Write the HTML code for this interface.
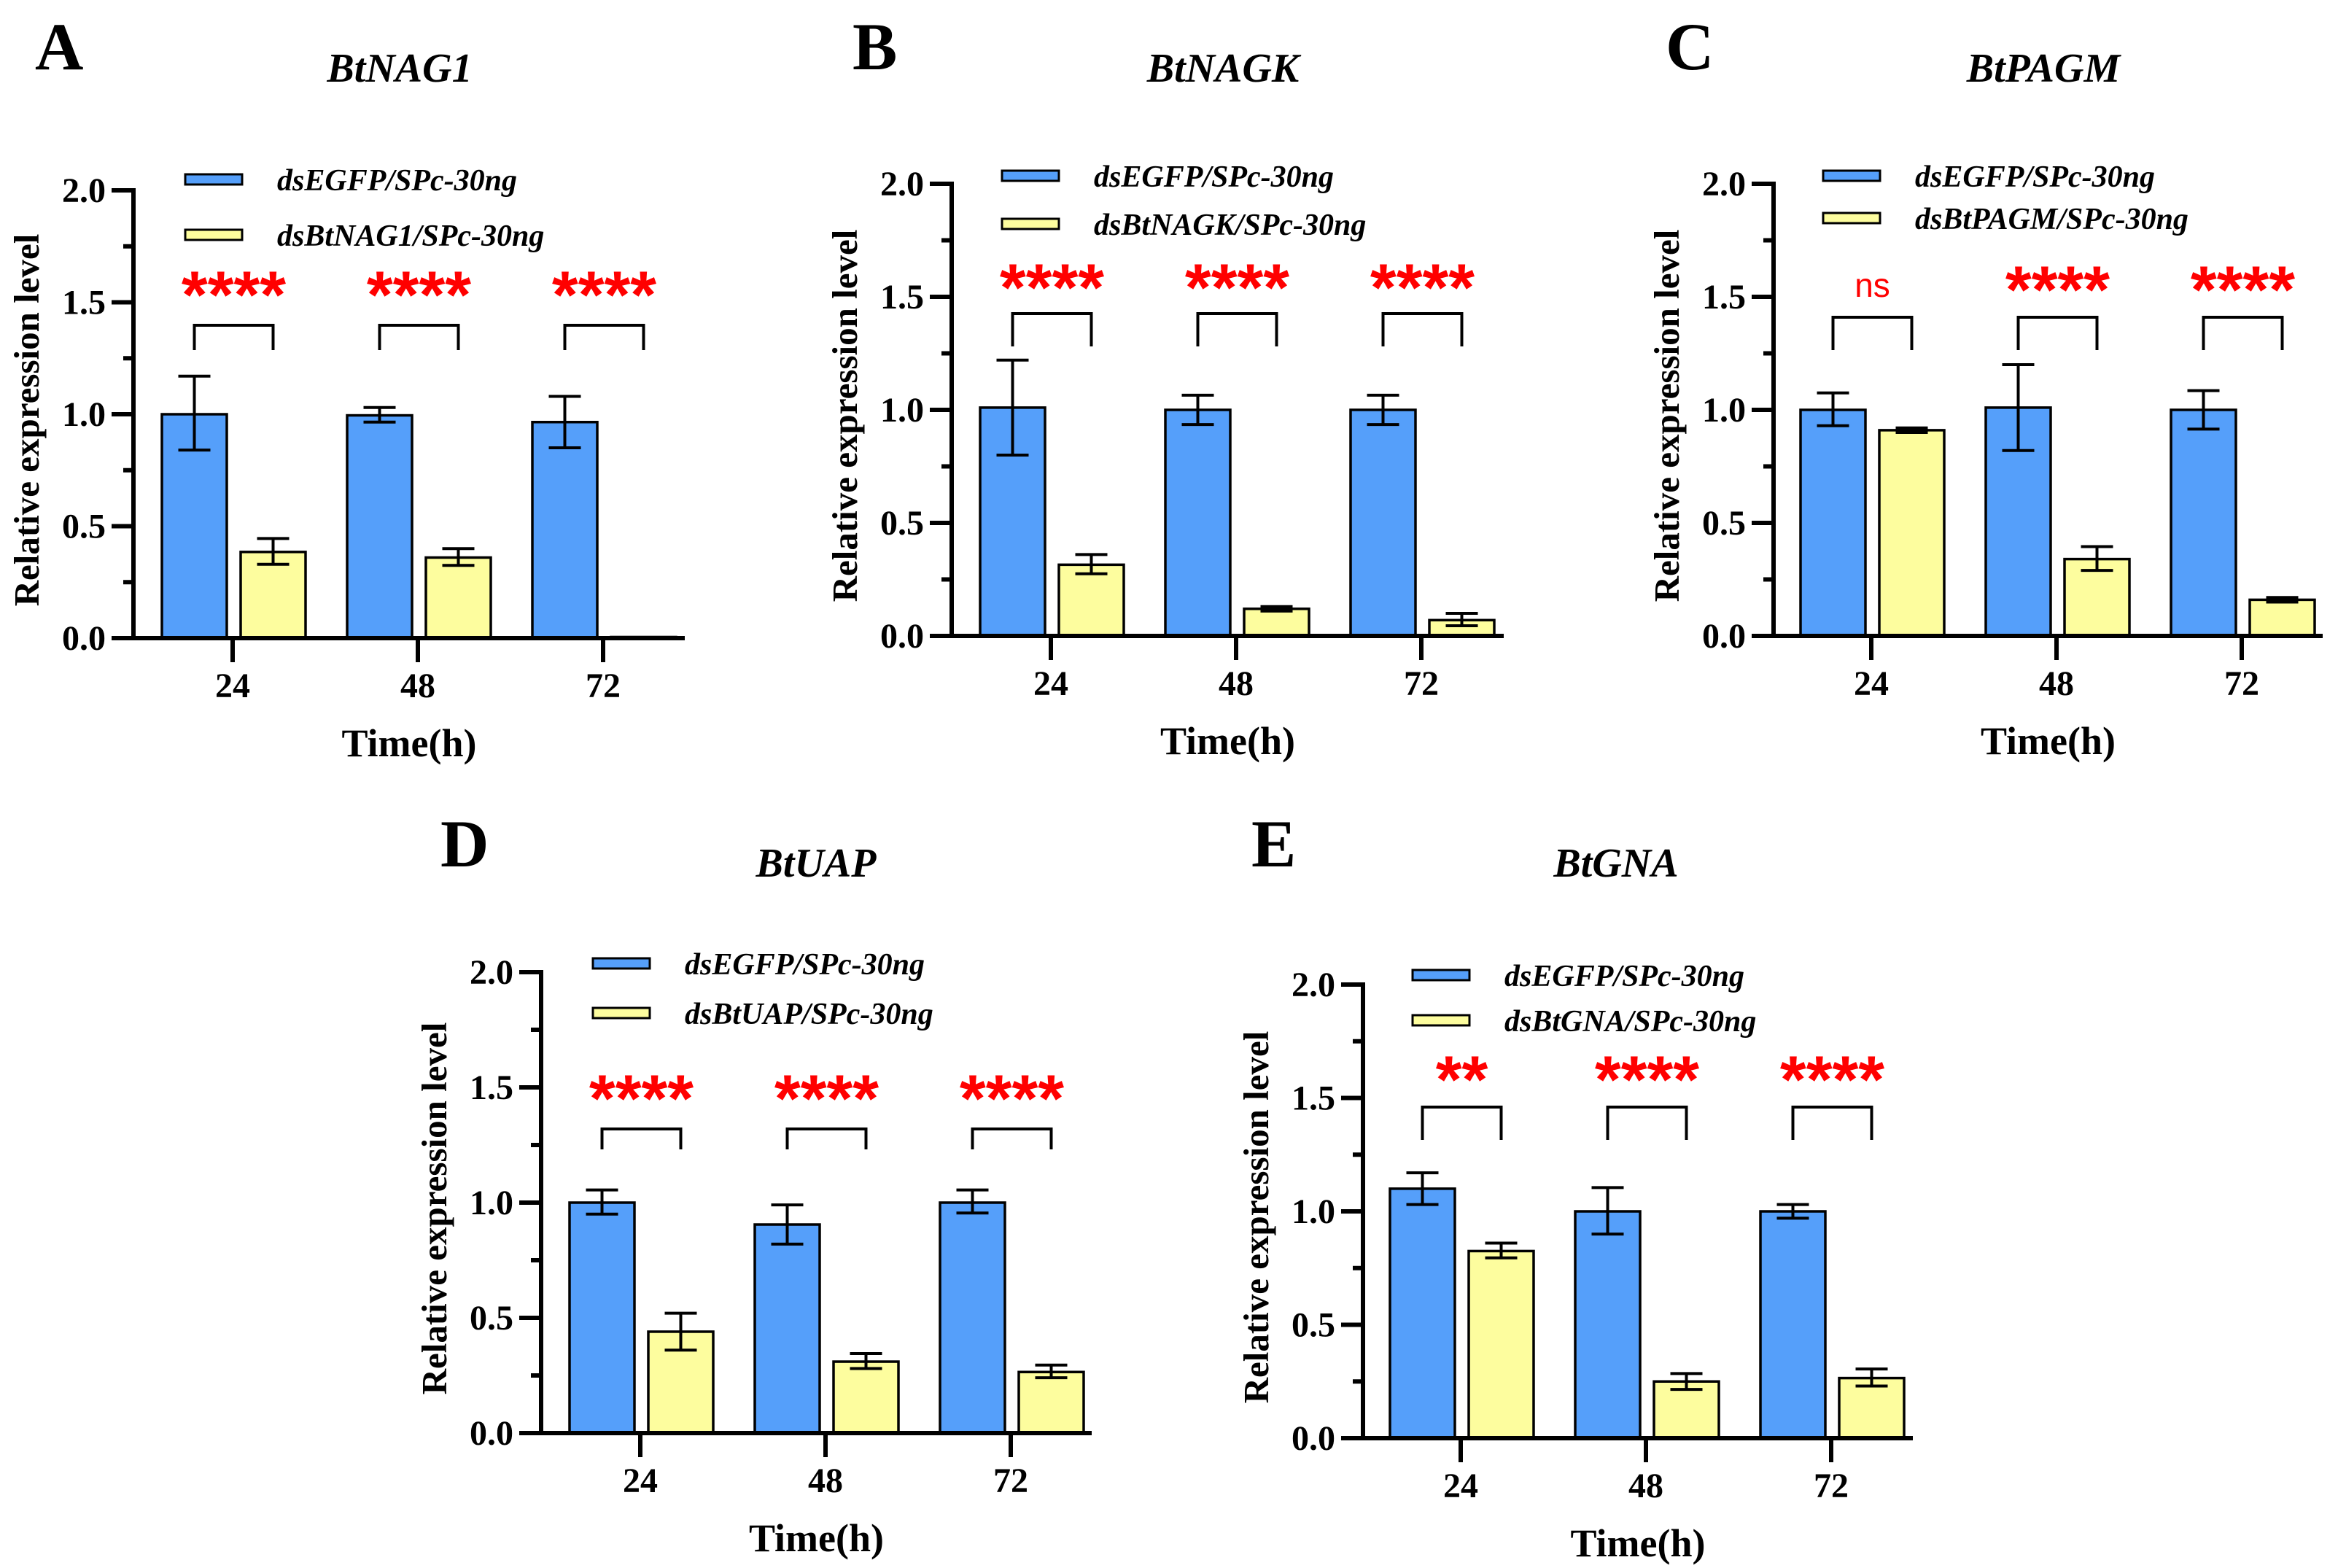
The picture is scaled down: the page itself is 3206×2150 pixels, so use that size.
<!DOCTYPE html>
<html><head><meta charset="utf-8"><style>
html,body{margin:0;padding:0;background:#fff;}
svg{display:block;}
</style></head><body>
<svg id="fig" width="3206" height="2150" viewBox="0 0 3206 2150" xmlns="http://www.w3.org/2000/svg">
<rect x="0" y="0" width="3206" height="2150" fill="#fff"/>
</svg>
<script>
const categories = ["24","48","72"];
const yTicks = [0,0.5,1.0,1.5,2.0];
const yTickLabels = ["0.0","0.5","1.0","1.5","2.0"];
const panelLetters = ["A","B","C","D","E"];
const genes = ["BtNAG1","BtNAGK","BtPAGM","BtUAP","BtGNA"];
const controlMeans = [[1.0,0.995,0.965],[1.01,1.0,1.0],[1.0,1.01,1.0],[1.0,0.905,1.0],[1.1,1.0,1.0]];
const controlErrHi = [[1.17,1.03,1.08],[1.22,1.065,1.065],[1.075,1.2,1.085],[1.055,0.99,1.055],[1.17,1.105,1.03]];
const controlErrLo = [[0.84,0.965,0.85],[0.80,0.935,0.935],[0.93,0.82,0.915],[0.95,0.82,0.955],[1.03,0.9,0.97]];
const treatMeans = [[0.385,0.36,0.005],[0.315,0.12,0.07],[0.91,0.34,0.16],[0.44,0.31,0.265],[0.825,0.25,0.265]];
const treatErrHi = [[0.445,0.40,0.005],[0.36,0.13,0.10],[0.92,0.395,0.17],[0.52,0.345,0.295],[0.86,0.285,0.305]];
const treatErrLo = [[0.33,0.325,0.005],[0.275,0.11,0.045],[0.90,0.29,0.15],[0.36,0.28,0.24],[0.795,0.215,0.23]];
const sigLabels = [["****","****","****"],["****","****","****"],["ns","****","****"],["****","****","****"],["**","****","****"]];

// layout (pixel geometry, not data)
const layout = [
 {ax:183,y0:875,y2:261,t0:319,end:939,lx:48,lb:95,tc:548,tb:112,sw:254,r1:246,r2:322,st:398,bt:446,bb:480},
 {ax:1305,y0:872,y2:252,t0:1441,end:2062,lx:1169,lb:95,tc:1677,tb:112,sw:1374,r1:241,r2:307,st:388,bt:430,bb:475},
 {ax:2432,y0:872,y2:252,t0:2566,end:3185,lx:2284,lb:95,tc:2802,tb:112,sw:2500,r1:241,r2:299,st:391,bt:435,bb:480},
 {ax:742,y0:1965,y2:1333,t0:878,end:1497,lx:604,lb:1188,tc:1119,tb:1202,sw:813,r1:1321,r2:1389,st:1500,bt:1548,bb:1576},
 {ax:1869,y0:1972,y2:1350,t0:2003,end:2623,lx:1716,lb:1188,tc:2216,tb:1202,sw:1937,r1:1337,r2:1399,st:1474,bt:1518,bb:1563}
];
const NS = "http://www.w3.org/2000/svg";
const svg = document.getElementById("fig");
function mk(tag, attrs, parent){
  const e = document.createElementNS(NS, tag);
  for (const k in attrs) e.setAttribute(k, attrs[k]);
  (parent||svg).appendChild(e);
  return e;
}
const SERIF = "'Liberation Serif', serif";
const SANS = "'Liberation Sans', sans-serif";

layout.forEach((L, p) => {
  const g = mk("g", {});
  
  
  const yS = v => L.y0 - (v/2.0)*(L.y0 - L.y2);
  const xS = i => L.t0 + i*254;

  let t = mk("text", {x:L.lx, y:L.lb, "font-family":SERIF, "font-weight":"bold", "font-size":92}, g);
  t.textContent = panelLetters[p];
  
  

  t = mk("text", {x:L.tc, y:L.tb, "font-family":SERIF, "font-weight":"bold", "font-style":"italic", "font-size":56, "text-anchor":"middle"}, g);
  t.textContent = genes[p];
  
  

  const legTexts = ["dsEGFP/SPc-30ng", "ds" + genes[p] + "/SPc-30ng"];
  const legFill = ["#559ffa", "#fdfd9e"];
  [L.r1, L.r2].forEach((ry, k) => {
    const r = mk("rect", {x:L.sw, y:ry-7, width:78, height:14, fill:legFill[k], stroke:"#000", "stroke-width":3}, g);
    
    
    const lt = mk("text", {x:L.sw+126, y:ry+15, "font-family":SERIF, "font-weight":"bold", "font-style":"italic", "font-size":42}, g);
    lt.textContent = legTexts[k];
    
    
  });

  categories.forEach((c, i) => {
    const tx = xS(i);
    const series = [
      {m:controlMeans[p][i], hi:controlErrHi[p][i], lo:controlErrLo[p][i], x0:tx-97, fill:"#559ffa", n:"control"},
      {m:treatMeans[p][i], hi:treatErrHi[p][i], lo:treatErrLo[p][i], x0:tx+11, fill:"#fdfd9e", n:"treatment"}
    ];
    series.forEach(s => {
      const yt = yS(s.m);
      const b = mk("rect", {x:s.x0, y:yt, width:89, height:Math.max(L.y0-yt,1), fill:s.fill, stroke:"#000", "stroke-width":3.5}, g);
      
      
      const cx = s.x0 + 44.5;
      if (s.hi - s.lo > 0.004) {
        const e = mk("path", {d:`M${cx},${yS(s.hi)}V${yS(s.lo)}M${cx-22},${yS(s.hi)}H${cx+22}M${cx-22},${yS(s.lo)}H${cx+22}`, stroke:"#000", "stroke-width":4, fill:"none"}, g);
        
        
      }
    });
    const bl = tx-52.5, br = tx+55.5;
    const bk = mk("path", {d:`M${bl},${L.bb}V${L.bt}H${br}V${L.bb}`, stroke:"#000", "stroke-width":4, fill:"none"}, g);
    
    
    const lab = sigLabels[p][i];
    const mid = (bl+br)/2;
    let st;
    if (lab === "ns") {
      st = mk("text", {x:mid, y:L.st+16, "font-family":SANS, "font-size":46, fill:"#ff0000", "text-anchor":"middle"}, g);
    } else {
      st = mk("text", {x:mid, y:L.st+38, "font-family":SANS, "font-weight":"bold", "font-size":92, fill:"#ff0000", "text-anchor":"middle"}, g);
    }
    st.textContent = lab;
    
    

    const xt = mk("line", {x1:tx, x2:tx, y1:L.y0, y2:L.y0+33, stroke:"#000", "stroke-width":6}, g);
    
    
    const xl = mk("text", {x:tx, y:L.y0+81, "font-family":SERIF, "font-weight":"bold", "font-size":48, "text-anchor":"middle"}, g);
    xl.textContent = c;
    
    
  });

  const ya = mk("line", {x1:L.ax, x2:L.ax, y1:L.y2-3, y2:L.y0+3, stroke:"#000", "stroke-width":6}, g);
  
  
  const xa = mk("line", {x1:L.ax-30, x2:L.end, y1:L.y0, y2:L.y0, stroke:"#000", "stroke-width":6}, g);
  
  
  yTicks.forEach((v, k) => {
    const yy = yS(v);
    const tk = mk("line", {x1:L.ax-30, x2:L.ax, y1:yy, y2:yy, stroke:"#000", "stroke-width":6}, g);
    
    
    const tl = mk("text", {x:L.ax-38, y:yy+16, "font-family":SERIF, "font-weight":"bold", "font-size":48, "text-anchor":"end"}, g);
    tl.textContent = yTickLabels[k];
    
    
    if (k < yTicks.length-1) {
      const ym = yS(v+0.25);
      const mt = mk("line", {x1:L.ax-14, x2:L.ax, y1:ym, y2:ym, stroke:"#000", "stroke-width":6}, g);
      
      
    }
  });
  const ycy = (L.y0+L.y2)/2 + 8;
  const yl = mk("text", {x:L.ax-130, y:ycy, "font-family":SERIF, "font-weight":"bold", "font-size":49, "text-anchor":"middle", transform:`rotate(-90 ${L.ax-130} ${ycy})`}, g);
  yl.textContent = "Relative expression level";
  
  
  const xl = mk("text", {x:(L.ax+L.end)/2, y:L.y0+162, "font-family":SERIF, "font-weight":"bold", "font-size":54, "text-anchor":"middle"}, g);
  xl.textContent = "Time(h)";
  
  
});
</script>
</body></html>
